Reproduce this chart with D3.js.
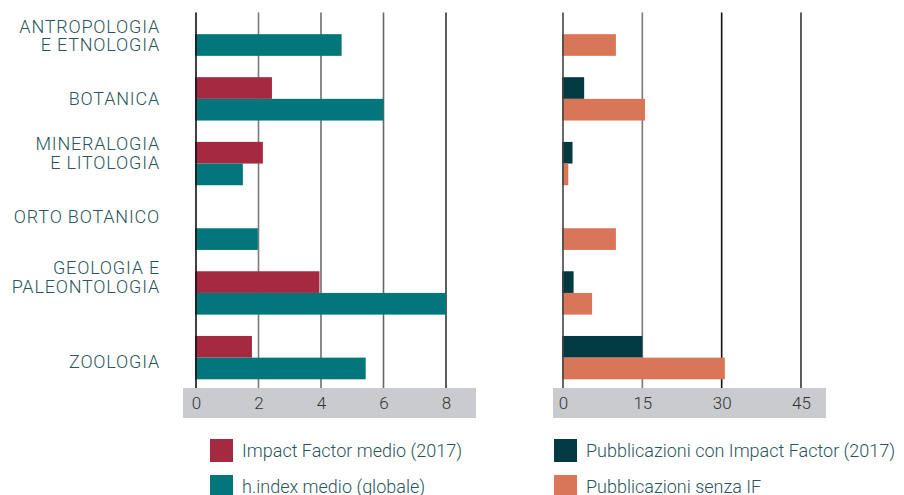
<!DOCTYPE html>
<html>
<head>
<meta charset="utf-8">
<script src="https://cdn.jsdelivr.net/npm/d3@7"></script>
<style>
  body { margin: 0; background: #fff; }
  svg { display: block; font-family: Roboto, "Open Sans", sans-serif; }
</style>
</head>
<body>
<svg id="chart" width="904" height="495"></svg>
<script>
// categories, top to bottom (label lines)
const categories = [
  ['ANTROPOLOGIA', 'E ETNOLOGIA'],
  ['BOTANICA'],
  ['MINERALOGIA', 'E LITOLOGIA'],
  ['ORTO BOTANICO'],
  ['GEOLOGIA E', 'PALEONTOLOGIA'],
  ['ZOOLOGIA']
];

// left panel
const impactFactor = [null, 2.43, 2.14, null, 3.95, 1.79];
const hIndex = [4.66, 6.0, 1.5, 1.98, 8.0, 5.43];
const leftTicks = [0, 2, 4, 6, 8];

// right panel
const pubWithIF = [0, 4, 1.8, 0, 2, 15];
const pubNoIF = [10, 15.5, 1, 10, 5.5, 30.6];
const rightTicks = [0, 15, 30, 45];

const legendLabels = [
  'Impact Factor medio (2017)',
  'h.index medio (globale)',
  'Pubblicazioni con Impact Factor (2017)',
  'Pubblicazioni senza IF'
];

// small vertical nudges for the category labels (as in the original layout)
const labelNudge = [1.3, -0.6, -10.9, -12.3, -16, 4];

const colors = {
  red: '#a52940',
  teal: '#03767b',
  dark: '#023a41',
  orange: '#d87657',
  text: '#2a555c',
  band: '#c9cbce'
};

const svg = d3.select('#chart');

const y = d3.scaleBand()
  .domain(d3.range(categories.length))
  .range([12.5, 379.3])
  .paddingInner(0.33)
  .paddingOuter(0);
const half = y.bandwidth() / 2;

const gridTop = 12.5;
const bandTop = 388;
const bandH = 30;

function panel(x, ticks, bandX0, bandX1, seriesA, seriesB, colA, colB, lineColors) {
  const g = svg.append('g');

  // axis band
  g.append('rect')
    .attr('x', bandX0).attr('y', bandTop)
    .attr('width', bandX1 - bandX0).attr('height', bandH)
    .attr('fill', colors.band);

  // gridlines
  g.selectAll('.grid')
    .data(ticks.slice(1))
    .enter()
    .append('line')
    .attr('x1', (d) => x(d)).attr('x2', (d) => x(d))
    .attr('y1', gridTop).attr('y2', bandTop)
    .attr('stroke', (d, i) => lineColors[i + 1])
    .attr('stroke-width', 1.6);

  // bars
  const rows = categories.map((c, i) => ({ i, a: seriesA[i], b: seriesB[i] }));
  g.selectAll('.barA')
    .data(rows.filter((r) => r.a))
    .enter()
    .append('rect')
    .attr('x', x(0) - 1)
    .attr('y', (r) => y(r.i))
    .attr('width', (r) => x(r.a) - x(0) + 1)
    .attr('height', half)
    .attr('fill', colA);
  g.selectAll('.barB')
    .data(rows.filter((r) => r.b))
    .enter()
    .append('rect')
    .attr('x', x(0) - 1)
    .attr('y', (r) => y(r.i) + half)
    .attr('width', (r) => x(r.b) - x(0) + 1)
    .attr('height', half)
    .attr('fill', colB);

  // zero line on top
  g.append('line')
    .attr('x1', x(0)).attr('x2', x(0))
    .attr('y1', gridTop).attr('y2', bandTop)
    .attr('stroke', lineColors[0])
    .attr('stroke-width', 1.6);

  // tick labels
  const axis = d3.axisBottom(x).tickValues(ticks).tickSize(0).tickPadding(0);
  const ax = g.append('g')
    .attr('transform', `translate(0,${bandTop + 9})`)
    .call(axis);
  ax.select('.domain').remove();
  ax.selectAll('text')
    .attr('font-size', '17px')
    .attr('font-family', 'Roboto, sans-serif')
    .attr('font-weight', 300)
    .attr('fill', '#333');
}

const xLeft = d3.scaleLinear().domain([0, 8]).range([196, 446]);
panel(xLeft, leftTicks, 183, 476, impactFactor, hIndex, colors.red, colors.teal,
  ['#111', '#7a7a7a', '#6e6e6e', '#666', '#333']);

const xRight = d3.scaleLinear().domain([0, 45]).range([563, 801]);
panel(xRight, rightTicks, 553, 826, pubWithIF, pubNoIF, colors.dark, colors.orange,
  ['#444', '#7a7a7a', '#111', '#333']);

// category labels
const labels = svg.append('g')
  .selectAll('text')
  .data(categories)
  .enter()
  .append('text')
  .attr('text-anchor', 'end')
  .attr('font-size', '18px')
  .attr('font-weight', 300)
  .attr('letter-spacing', '0.8px')
  .attr('fill', colors.text)
  .attr('transform', (d, i) => {
    const cy = y(i) + y.bandwidth() / 2 + labelNudge[i];
    const top = cy - (d.length - 1) * 18.7 / 2 + 6.6;
    return `translate(160,${top})`;
  });
labels.selectAll('tspan')
  .data((d) => d)
  .enter()
  .append('tspan')
  .attr('x', 0)
  .attr('y', (d, j) => j * 18.7)
  .text((d) => d);

// legend
const legendItems = [
  { label: legendLabels[0], color: colors.red, x: 210, y: 439 },
  { label: legendLabels[1], color: colors.teal, x: 210, y: 475 },
  { label: legendLabels[2], color: colors.dark, x: 554, y: 439 },
  { label: legendLabels[3], color: colors.orange, x: 554, y: 475 }
];
const lg = svg.append('g')
  .selectAll('g')
  .data(legendItems)
  .enter()
  .append('g')
  .attr('transform', (d) => `translate(${d.x},${d.y})`);
lg.append('rect')
  .attr('width', 23).attr('height', 23)
  .attr('fill', (d) => d.color);
lg.append('text')
  .attr('x', 32)
  .attr('y', 18)
  .attr('font-size', '18px')
  .attr('font-weight', 300)
  .attr('fill', colors.text)
  .text((d) => d.label);
</script>
</body>
</html>
